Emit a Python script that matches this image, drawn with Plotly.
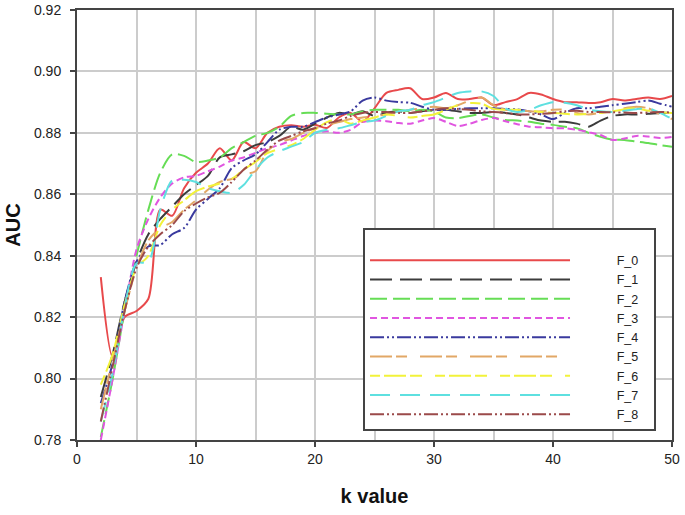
import plotly.graph_objects as go

# k values and AUC
k = list(range(2, 51))

f0 = [0.833, 0.807, 0.820, 0.822, 0.826, 0.855, 0.853, 0.862, 0.867, 0.870,
      0.875, 0.871, 0.877, 0.875, 0.880, 0.882, 0.8825, 0.882, 0.8826, 0.8816,
      0.885, 0.8865, 0.8836, 0.888, 0.893, 0.894, 0.8945, 0.891, 0.8915, 0.893,
      0.891, 0.891, 0.8915, 0.889, 0.890, 0.891, 0.893, 0.8925, 0.891, 0.890,
      0.890, 0.8897, 0.890, 0.891, 0.8905, 0.891, 0.8915, 0.891, 0.892]
f1 = [0.794, 0.808, 0.825, 0.838, 0.847, 0.852, 0.856, 0.860, 0.863, 0.866,
      0.872, 0.873, 0.874, 0.876, 0.877, 0.879, 0.882, 0.881, 0.883, 0.885,
      0.8865, 0.886, 0.887, 0.8855, 0.8865, 0.887, 0.8865, 0.887, 0.8875, 0.8875,
      0.887, 0.8865, 0.8865, 0.8868, 0.8865, 0.886, 0.885, 0.884, 0.8836, 0.8836,
      0.883, 0.882, 0.884, 0.8855, 0.886, 0.886, 0.8862, 0.8865, 0.8866]
f2 = [0.781, 0.800, 0.822, 0.840, 0.855, 0.867, 0.873, 0.8725, 0.8705, 0.871,
      0.872, 0.875, 0.877, 0.879, 0.880, 0.882, 0.8855, 0.8865, 0.8865, 0.8862,
      0.886, 0.886, 0.887, 0.8875, 0.8875, 0.8875, 0.887, 0.8875, 0.887, 0.885,
      0.8848, 0.8855, 0.886, 0.885, 0.8842, 0.884, 0.8836, 0.883, 0.8826, 0.882,
      0.8815, 0.880, 0.8787, 0.8778, 0.8777, 0.8772, 0.8767, 0.876, 0.8755]
f3 = [0.780, 0.800, 0.822, 0.842, 0.852, 0.859, 0.8635, 0.8655, 0.866, 0.8675,
      0.869, 0.871, 0.872, 0.8735, 0.875, 0.876, 0.8775, 0.879, 0.880, 0.8805,
      0.880, 0.881, 0.8835, 0.884, 0.8838, 0.8832, 0.883, 0.884, 0.8848, 0.8836,
      0.8822, 0.883, 0.8842, 0.8848, 0.8838, 0.8828, 0.882, 0.8818, 0.8815, 0.8815,
      0.881, 0.8802, 0.8793, 0.8777, 0.8782, 0.879, 0.8788, 0.8783, 0.8787]
f4 = [0.792, 0.805, 0.825, 0.838, 0.843, 0.8435, 0.847, 0.849, 0.855, 0.8585,
      0.862, 0.8685, 0.871, 0.873, 0.877, 0.881, 0.882, 0.882, 0.8835, 0.885,
      0.886, 0.887, 0.8905, 0.8915, 0.8905, 0.890, 0.8898, 0.8885, 0.8875, 0.8875,
      0.8878, 0.888, 0.888, 0.888, 0.8878, 0.8876, 0.887, 0.886, 0.8845, 0.8865,
      0.888, 0.888, 0.8885, 0.889, 0.8895, 0.890, 0.8905, 0.8895, 0.8885]
f5 = [0.790, 0.806, 0.822, 0.836, 0.845, 0.849, 0.851, 0.855, 0.858, 0.8615,
      0.864, 0.865, 0.8665, 0.8675, 0.874, 0.877, 0.878, 0.880, 0.8815, 0.8825,
      0.8835, 0.8845, 0.885, 0.8855, 0.886, 0.887, 0.8875, 0.888, 0.8885, 0.888,
      0.889, 0.8905, 0.8915, 0.889, 0.8875, 0.8875, 0.887, 0.887, 0.8875, 0.8875,
      0.8865, 0.886, 0.8865, 0.887, 0.888, 0.8885, 0.888, 0.886, 0.8845]
f6 = [0.798, 0.808, 0.824, 0.836, 0.840, 0.850, 0.855, 0.858, 0.861, 0.8625,
      0.8635, 0.865, 0.868, 0.8705, 0.8734, 0.8748, 0.876, 0.878, 0.881, 0.8835,
      0.8845, 0.883, 0.884, 0.885, 0.886, 0.8855, 0.885, 0.8855, 0.886, 0.8875,
      0.889, 0.8897, 0.8895, 0.8878, 0.8875, 0.8875, 0.8872, 0.8868, 0.8865, 0.8862,
      0.886, 0.8862, 0.8865, 0.887, 0.8877, 0.888, 0.8872, 0.8867, 0.8865]
f7 = [0.786, 0.802, 0.823, 0.8375, 0.838, 0.855, 0.8645, 0.8647, 0.864, 0.862,
      0.861, 0.8605, 0.863, 0.868, 0.872, 0.874, 0.8755, 0.877, 0.880, 0.881,
      0.8815, 0.8825, 0.8835, 0.884, 0.8855, 0.887, 0.8875, 0.889, 0.890, 0.8915,
      0.893, 0.8935, 0.8935, 0.892, 0.888, 0.8868, 0.8875, 0.889, 0.890, 0.8898,
      0.889, 0.8876, 0.887, 0.8868, 0.8872, 0.8877, 0.888, 0.8865, 0.8845]
f8 = [0.786, 0.804, 0.822, 0.836, 0.843, 0.847, 0.850, 0.8545, 0.857, 0.859,
      0.8605, 0.864, 0.868, 0.871, 0.8745, 0.8775, 0.879, 0.8805, 0.8815, 0.883,
      0.884, 0.8855, 0.8865, 0.8868, 0.8868, 0.8865, 0.8865, 0.887, 0.8875, 0.888,
      0.8878, 0.8875, 0.887, 0.8868, 0.8865, 0.886, 0.886, 0.8862, 0.8865, 0.887,
      0.8872, 0.8868, 0.8868, 0.8867, 0.8866, 0.8865, 0.8866, 0.8868, 0.8866]

names = ["F_0", "F_1", "F_2", "F_3", "F_4", "F_5", "F_6", "F_7", "F_8"]
series = [f0, f1, f2, f3, f4, f5, f6, f7, f8]

colors = ["#e8494b", "#3c3c3c", "#66dd55", "#e055e0", "#3a3a9e",
          "#e2a766", "#f2f23a", "#5ee0e0", "#9b4a4a"]
dashes = ["solid", "22px,8px", "17px,6px", "7px,4px",
          "14px,3px,2px,3px,2px,3px", "22px,4px,11px,13px",
          "10px,4px,22px,4px,12px,13px", "20px,10px",
          "14px,3px,2px,3px,2px,3px"]

# non-breaking spaces push legend text right of the long line samples
LPAD, RPAD = "\u00a0" * 12, "\u00a0" * 3

fig = go.Figure()
for nm, y, col, d in zip(names, series, colors, dashes):
    fig.add_trace(go.Scatter(x=k, y=y, name=LPAD + nm + RPAD, mode="lines",
                             line=dict(color=col, width=2, dash=d,
                                       shape="spline", smoothing=0.8)))

axis_font = dict(family="Liberation Sans, Arial", size=14, color="#222")
fig.update_layout(
    width=685, height=515,
    paper_bgcolor="white", plot_bgcolor="white",
    margin=dict(l=77, r=13, t=10, b=75),
    font=dict(family="Liberation Sans, Arial", color="#222"),
    legend=dict(x=0.4807, y=0.493, xanchor="left", yanchor="top",
                bgcolor="white", bordercolor="#444", borderwidth=2,
                font=dict(size=12.5, color="#222"), itemwidth=200,
                tracegroupgap=0,
                title=dict(text=" ", font=dict(size=12))),
    xaxis=dict(range=[0, 50], dtick=10, tick0=0, automargin=False,
               showline=True, linecolor="#444", linewidth=2, mirror=True,
               ticks="outside", ticklen=5, tickcolor="#444", tickwidth=2,
               showgrid=True, gridcolor="#cccccc", gridwidth=2,
               minor=dict(dtick=5, showgrid=True, gridcolor="#cccccc", gridwidth=2),
               zeroline=False, tickfont=axis_font,
               title=dict(text="<b>k value</b>", font=dict(size=20, color="#111"),
                          standoff=23)),
    yaxis=dict(range=[0.78, 0.92], dtick=0.02, tick0=0.78, tickformat=".2f",
               automargin=False, ticklabelstandoff=6,
               showline=True, linecolor="#444", linewidth=2, mirror=True,
               ticks="outside", ticklen=5, tickcolor="#444", tickwidth=2,
               showgrid=True, gridcolor="#cccccc", gridwidth=2,
               zeroline=False, tickfont=axis_font,
               title=dict(text="<b>AUC</b>", font=dict(size=20, color="#111"),
                          standoff=8)),
)

# drop the default 8px body margin so the figure fills the window exactly
fig.write_html("out.html", config={"displayModeBar": False},
               post_script="document.body.style.margin='0';")
